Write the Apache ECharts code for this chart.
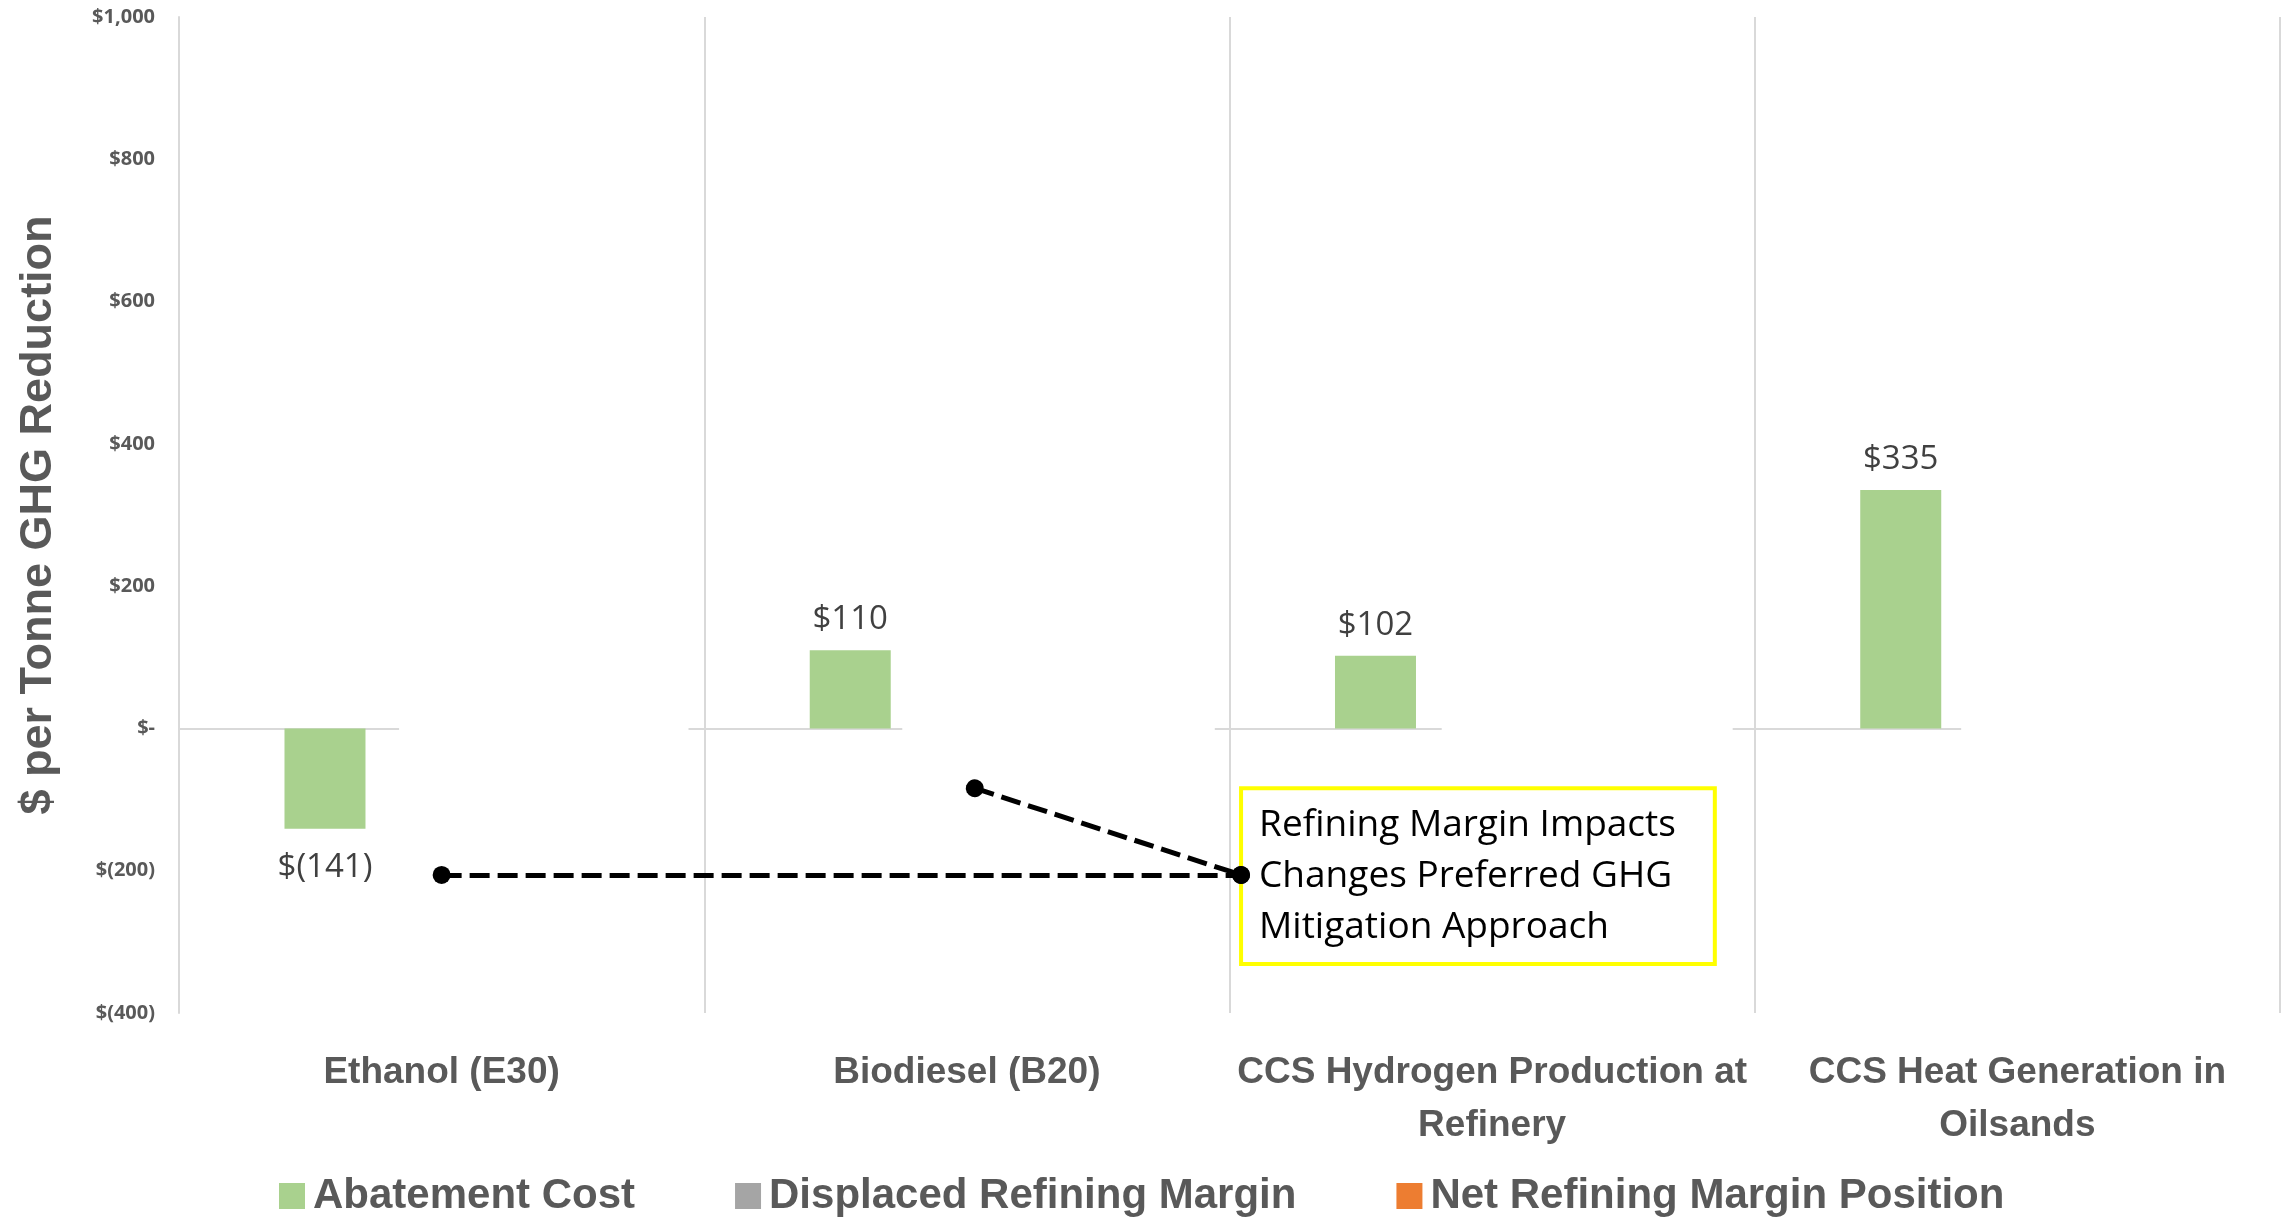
<!DOCTYPE html>
<html>
<head>
<meta charset="utf-8">
<script src="https://cdn.jsdelivr.net/npm/echarts@6/dist/echarts.min.js"></script>
<style>
  html, body { margin: 0; padding: 0; background: #fff; }
  #chart { width: 2295px; height: 1220px; }
</style>
</head>
<body>
<div id="chart"></div>
<script>
// categories and series values
var categories = ['Ethanol (E30)', 'Biodiesel (B20)', 'CCS Hydrogen Production at\nRefinery', 'CCS Heat Generation in\nOilsands']
var abatementCost = [-141, 110, 102, 335]
var displacedMargin = ['-', '-', '-', '-'] // covered in the original
var netMargin = ['-', '-', '-', '-'] // covered in the original
var seriesNames = ['Abatement Cost', 'Displaced Refining Margin', 'Net Refining Margin Position']
var seriesColors = ['#A9D18E', '#A5A5A5', '#ED7D31']

// zero baseline pieces that are still visible (x in category units 0..4)
var zeroPieces = [[0, 0.419], [0.970, 1.377], [1.972, 2.404], [2.958, 3.393]]
// callout connectors [x, y] in category units / dollars
var calloutFrom = [[0.50, -206], [1.515, -84]]
var calloutTo = [2.022, -206]
var calloutBox = [[2.022, -84], [2.924, -331]]
var calloutText = 'Refining Margin Impacts\nChanges Preferred GHG\nMitigation Approach'

var narrow = "'Liberation Sans', Arial, sans-serif"
var grey = '#595959'
var lineGrey = '#D9D9D9'

function money (v) {
  if (v === 0) return '$-'
  var s = Math.abs(v).toLocaleString('en-US')
  return v < 0 ? '$(' + s + ')' : '$' + s
}

var chart = echarts.init(document.getElementById('chart'))

var barData = abatementCost.map(function (v) {
  return { value: v, label: { position: v < 0 ? 'bottom' : 'top', distance: v < 0 ? 22 : 14 } }
})

chart.setOption({
  animation: false,
  legend: {
    data: seriesNames,
    left: 274,
    top: 1170,
    icon: 'rect',
    itemWidth: 26,
    itemHeight: 26,
    itemGap: 100,
    textStyle: { fontFamily: narrow, fontWeight: 'bold', fontSize: 42, color: grey, padding: [0, 0, 0, 3] }
  },
  grid: { left: 179, right: 15, top: 17, bottom: 207 },
  xAxis: [{
    type: 'category',
    data: categories,
    axisLine: { show: false },
    axisTick: { show: false },
    splitLine: { show: true, lineStyle: { color: lineGrey, width: 2 } },
    axisLabel: {
      interval: 0,
      margin: 33,
      fontFamily: narrow,
      fontWeight: 'bold',
      fontSize: 37,
      lineHeight: 53,
      color: grey
    }
  }, {
    type: 'value',
    min: 0,
    max: 4,
    show: false
  }],
  yAxis: {
    type: 'value',
    min: -400,
    max: 1000,
    interval: 200,
    name: '$ per Tonne GHG Reduction',
    nameLocation: 'middle',
    nameRotate: 90,
    nameGap: 118,
    nameTextStyle: { fontFamily: narrow, fontWeight: 'bold', fontSize: 45, color: grey },
    axisLine: { show: true, lineStyle: { color: lineGrey, width: 2 } },
    axisTick: { show: false },
    splitLine: { show: false },
    axisLabel: {
      margin: 24,
      fontFamily: "'Open Sans', sans-serif",
      fontWeight: 'bold',
      fontSize: 20,
      color: grey,
      formatter: money
    }
  },
  series: [
    {
      name: seriesNames[0],
      type: 'bar',
      data: barData,
      barWidth: 81,
      barGap: '44%',
      itemStyle: { color: seriesColors[0] },
      label: {
        show: true,
        fontFamily: "'Open Sans', sans-serif",
        fontSize: 33,
        color: '#404040',
        formatter: function (p) { return money(p.value) }
      },
      z: 3
    },
    {
      name: seriesNames[1],
      type: 'bar',
      data: displacedMargin,
      barWidth: 81,
      barGap: '44%',
      itemStyle: { color: seriesColors[1] }
    },
    {
      name: seriesNames[2],
      type: 'bar',
      data: netMargin,
      barWidth: 81,
      barGap: '44%',
      itemStyle: { color: seriesColors[2] }
    },
    {
      name: 'zero',
      type: 'lines',
      coordinateSystem: 'cartesian2d',
      xAxisIndex: 1,
      silent: true,
      lineStyle: { color: lineGrey, width: 2, opacity: 1 },
      data: zeroPieces.map(function (p) { return { coords: [[p[0], 0], [p[1], 0]] } }),
      z: 2
    },
    {
      name: 'callout box',
      type: 'line',
      xAxisIndex: 1,
      data: [],
      silent: true,
      markArea: {
        silent: true,
        itemStyle: { color: '#ffffff', borderColor: '#FFFF00', borderWidth: 4 },
        label: {
          show: true,
          position: 'insideLeft',
          distance: 20,
          formatter: calloutText,
          fontFamily: "'Open Sans', sans-serif",
          fontSize: 37,
          lineHeight: 51,
          color: '#000000'
        },
        data: [[{ coord: calloutBox[0] }, { coord: calloutBox[1] }]]
      },
      z: 4
    },
    {
      name: 'callout',
      type: 'lines',
      coordinateSystem: 'cartesian2d',
      xAxisIndex: 1,
      silent: true,
      symbol: ['circle', 'circle'],
      symbolSize: 18,
      lineStyle: { color: '#000000', width: 5, type: [20, 8], opacity: 1 },
      data: calloutFrom.map(function (p) { return { coords: [p, calloutTo] } }),
      z: 6
    }
  ]
})
</script>
</body>
</html>
